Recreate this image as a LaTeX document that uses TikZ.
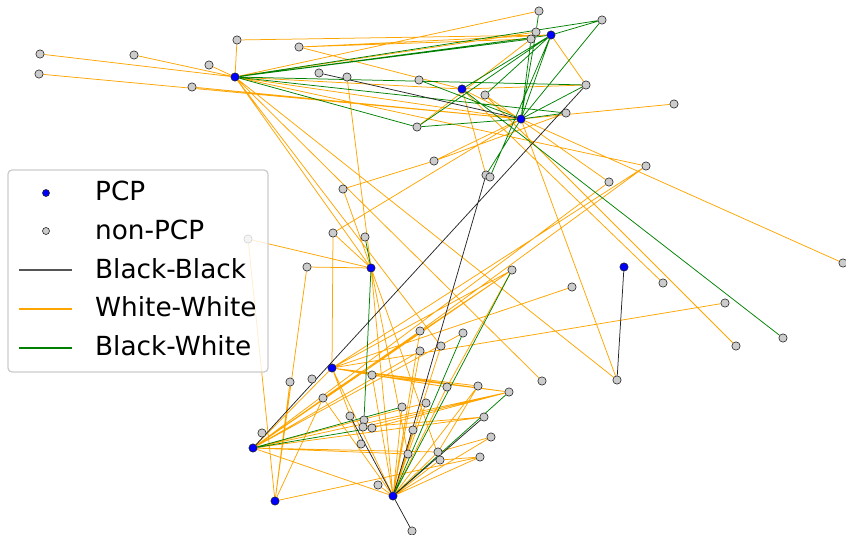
\documentclass[tikz,border=0pt]{standalone}
\usepackage{fontspec}
\setmainfont{DejaVu Sans}
\usetikzlibrary{backgrounds}
\definecolor{wwc}{HTML}{FFA500}
\definecolor{bwc}{HTML}{008000}
\definecolor{ngray}{HTML}{CCCCCC}
\definecolor{lgbb}{HTML}{555555}
\tikzset{
 pcp/.style={circle,draw=black!85,line width=0.6pt,fill=blue,inner sep=0pt,minimum size=8.3pt},
 npcp/.style={circle,draw=black!85,line width=0.6pt,fill=ngray,inner sep=0pt,minimum size=8.3pt},
 bbe/.style={draw=black!85,line width=0.75pt},
 wwe/.style={draw=wwc,line width=0.75pt},
 bwe/.style={draw=bwc,line width=0.75pt},
 lgline/.style={line width=2pt},
 lgtext/.style={anchor=base west,inner sep=0pt,font=\fontsize{26.3}{30}\selectfont},
}
\begin{document}
\begin{tikzpicture}[x=1pt,y=-1pt]
\useasboundingbox (0,0) rectangle (846,535);
% PCP nodes
\node[pcp] (A) at (235,77) {};
\node[pcp] (B) at (551,35) {};
\node[pcp] (C) at (462,89) {};
\node[pcp] (D) at (521,119) {};
\node[pcp] (E) at (371,268) {};
\node[pcp] (F) at (624,267) {};
\node[pcp] (G) at (332,368) {};
\node[pcp] (H) at (253,448) {};
\node[pcp] (I) at (275,501) {};
\node[pcp] (J) at (393,496) {};
% non-PCP nodes
\node[npcp] (n1) at (40,54) {};
\node[npcp] (n2) at (39,74) {};
\node[npcp] (n3) at (134,55) {};
\node[npcp] (n4) at (209,65) {};
\node[npcp] (n5) at (192,87) {};
\node[npcp] (n6) at (237,40) {};
\node[npcp] (n7) at (299,47) {};
\node[npcp] (n8) at (539,11) {};
\node[npcp] (n9) at (536,32) {};
\node[npcp] (n10) at (531,39) {};
\node[npcp] (n11) at (602,20) {};
\node[npcp] (n12) at (319,73) {};
\node[npcp] (n13) at (347,77) {};
\node[npcp] (n14) at (419,80) {};
\node[npcp] (n15) at (485,95) {};
\node[npcp] (n16) at (586,85) {};
\node[npcp] (n17) at (417,127) {};
\node[npcp] (n18) at (566,113) {};
\node[npcp] (n19) at (674,104) {};
\node[npcp] (n20) at (434,161) {};
\node[npcp] (n21) at (646,166) {};
\node[npcp] (n22) at (609,182) {};
\node[npcp] (n23) at (486,175) {};
\node[npcp] (n24) at (490,177) {};
\node[npcp] (n25) at (343,189) {};
\node[npcp] (n26) at (333,233) {};
\node[npcp] (n27) at (365,237) {};
\node[npcp] (n28) at (248,239) {};
\node[npcp] (n29) at (307,267) {};
\node[npcp] (n30) at (512,270) {};
\node[npcp] (n31) at (843,263) {};
\node[npcp] (n32) at (572,287) {};
\node[npcp] (n33) at (663,283) {};
\node[npcp] (n34) at (725,303) {};
\node[npcp] (n35) at (783,338) {};
\node[npcp] (n36) at (736,346) {};
\node[npcp] (n37) at (420,331) {};
\node[npcp] (n38) at (463,333) {};
\node[npcp] (n39) at (441,346) {};
\node[npcp] (n40) at (420,351) {};
\node[npcp] (n41) at (542,381) {};
\node[npcp] (n42) at (617,380) {};
\node[npcp] (n43) at (290,382) {};
\node[npcp] (n44) at (312,379) {};
\node[npcp] (n45) at (372,375) {};
\node[npcp] (n46) at (447,387) {};
\node[npcp] (n47) at (478,386) {};
\node[npcp] (n48) at (509,392) {};
\node[npcp] (n49) at (323,398) {};
\node[npcp] (n50) at (402,407) {};
\node[npcp] (n51) at (426,403) {};
\node[npcp] (n52) at (350,416) {};
\node[npcp] (n53) at (364,420) {};
\node[npcp] (n54) at (363,427) {};
\node[npcp] (n55) at (372,428) {};
\node[npcp] (n56) at (484,417) {};
\node[npcp] (n57) at (413,430) {};
\node[npcp] (n58) at (262,433) {};
\node[npcp] (n59) at (361,444) {};
\node[npcp] (n60) at (491,437) {};
\node[npcp] (n61) at (408,454) {};
\node[npcp] (n62) at (438,452) {};
\node[npcp] (n63) at (440,460) {};
\node[npcp] (n64) at (480,457) {};
\node[npcp] (n65) at (378,485) {};
\node[npcp] (n66) at (412,531) {};
\begin{pgfonlayer}{background}
% White-White edges
\path[wwe] (n1)--(A) (n3)--(A) (n4)--(A) (n6)--(A) (n6)--(B) (n7)--(B) (n7)--(n10) (n7)--(C)
 (A)--(n8) (A)--(n9) (A)--(C) (A)--(D) (n2)--(D) (n5)--(D) (A)--(n21) (A)--(E) (A)--(n39)
 (A)--(n41) (A)--(n42) (C)--(n16) (B)--(n16) (C)--(n33) (n15)--(n36) (n15)--(n22) (C)--(n23)
 (C)--(D) (D)--(n19) (D)--(n31) (D)--(n42) (n20)--(D) (n20)--(n18) (n17)--(n10) (n13)--(E)
 (n26)--(D) (n25)--(n20)
 (n25)--(E) (n26)--(E) (n28)--(E) (n29)--(E) (n26)--(G) (n28)--(I) (n29)--(I) (E)--(J)
 (E)--(n61) (E)--(n63)
 (n21)--(n37) (n22)--(H) (G)--(n21) (G)--(n30) (G)--(n32) (G)--(n34) (H)--(n30) (H)--(n37)
 (H)--(n38) (H)--(n40) (n30)--(n46)
 (H)--(G) (H)--(J) (H)--(n61) (H)--(n62) (H)--(n51) (H)--(n48) (H)--(n56) (I)--(n43) (I)--(n49)
 (I)--(n64) (G)--(n45) (G)--(n46) (G)--(n47) (G)--(n48) (G)--(J) (G)--(n59) (n49)--(J)
 (n49)--(n30) (n45)--(n48) (n45)--(n46) (n45)--(J) (n46)--(J) (n47)--(J) (n47)--(n62)
 (n48)--(n55) (n48)--(n54) (n56)--(n54) (n60)--(J) (n60)--(n62) (n64)--(J) (n64)--(n63)
 (J)--(n62) (J)--(n63) (J)--(n57) (J)--(n51) (J)--(n50) (J)--(n65) (J)--(n39) (J)--(n37)
 (J)--(n40);
% Black-White edges
\path[bwe] (A)--(B) (A)--(n10) (A)--(n11) (A)--(n16) (A)--(n18) (A)--(n17) (n14)--(D)
 (n17)--(D) (C)--(n35) (B)--(C) (B)--(n15) (B)--(n11) (B)--(n24) (B)--(D) (n17)--(B)
 (n9)--(D) (n10)--(D) (n8)--(n9) (n11)--(D) (D)--(n16) (D)--(n18) (D)--(n23)
 (n27)--(E) (E)--(n53) (H)--(n50) (H)--(n55) (J)--(n38) (J)--(n30) (n48)--(J);
% Black-Black edges
\path[bbe] (F)--(n42) (J)--(n66) (n16)--(H) (n23)--(J) (n52)--(J) (n56)--(J) (n12)--(D);
\end{pgfonlayer}
% legend box
\path[draw=black!20,line width=1.3pt,rounded corners=4pt,fill=white,fill opacity=0.8]
 (8,170) rectangle (268,372);
% legend entries
\node[pcp,minimum size=7pt] (lgP) at (46,193) {};
\node[npcp,minimum size=7pt] (lgN) at (46,231) {};
\coordinate (lbA) at (19,269.5); \coordinate (lbB) at (72,269.5);
\coordinate (lwA) at (19,308.5); \coordinate (lwB) at (72,308.5);
\coordinate (lgA) at (19,347.5); \coordinate (lgB) at (72,347.5);
\draw[lgline,color=lgbb] (lbA)--(lbB);
\draw[lgline,color=wwc] (lwA)--(lwB);
\draw[lgline,color=bwc] (lgA)--(lgB);
\node[lgtext] (tP) at (95,200) {PCP};
\node[lgtext] (tN) at (95,239.3) {non-PCP};
\node[lgtext] (tBB) at (95,278.3) {Black-Black};
\node[lgtext] (tWW) at (95,316.7) {White-White};
\node[lgtext] (tBW) at (95,355.7) {Black-White};
\end{tikzpicture}
\end{document}
